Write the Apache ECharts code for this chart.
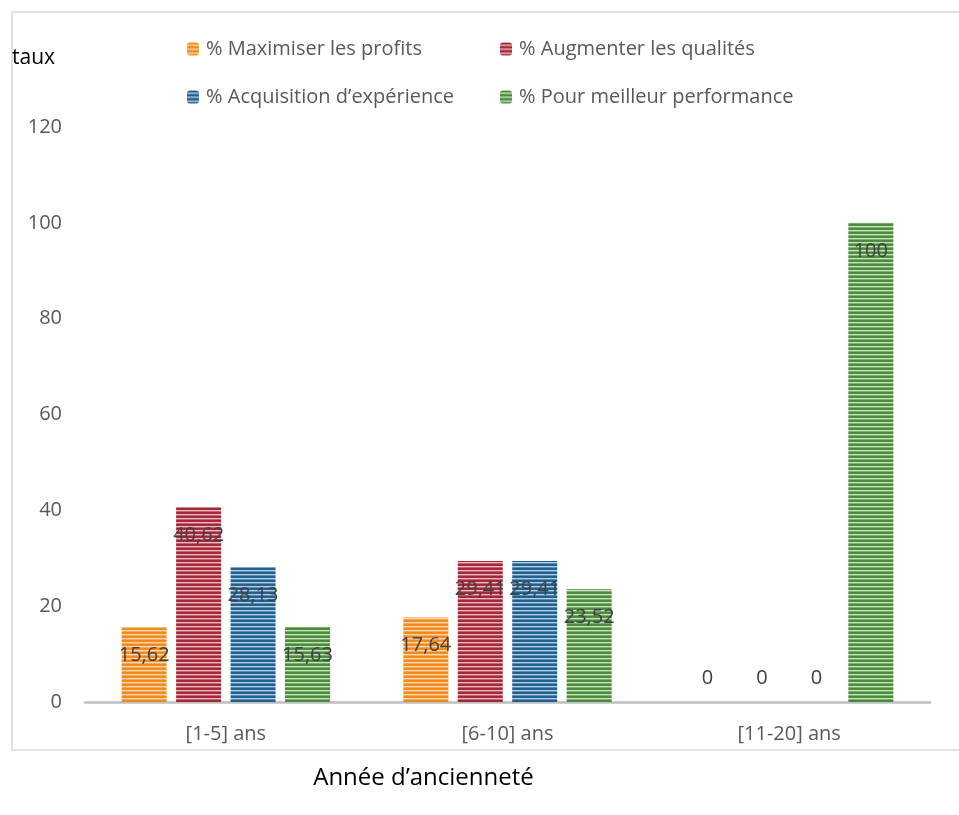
<!DOCTYPE html>
<html>
<head>
<meta charset="utf-8">
<script src="https://cdn.jsdelivr.net/npm/echarts@6/dist/echarts.min.js"></script>
<style>
  html, body { margin: 0; padding: 0; background: #ffffff; }
  #chart { width: 959px; height: 815px; }
</style>
</head>
<body>
<div id="chart"></div>
<script>
// Seniority groups on the category axis
const categories = ['[1-5] ans', '[6-10] ans', '[11-20] ans'];

// Series names (legend)
const seriesNames = [
  '% Maximiser les profits',
  '% Augmenter les qualités',
  '% Acquisition d’expérience',
  '% Pour meilleur performance'
];

// Rates per seniority group
const maximiserProfits = [15.62, 17.64, 0];
const augmenterQualites = [40.62, 29.41, 0];
const acquisitionExperience = [28.13, 29.41, 0];
const meilleurPerformance = [15.63, 23.52, 100];

// Value axis ticks
const yMin = 0;
const yMax = 120;
const yStep = 20;

const axisTitle = 'taux';
const categoryTitle = 'Année d’ancienneté';

// Base colours and their light stripe tints
const palette = [
  { base: '#f28a1c', light: '#fcd9b4', mid: '#f5a95a' },
  { base: '#a3283a', light: '#ecbcc3', mid: '#c4616f' },
  { base: '#22608e', light: '#b3cfe4', mid: '#5a8bb3' },
  { base: '#4a8b3c', light: '#c9e3c0', mid: '#7aad6c' }
];

// Horizontal-stripe fill pattern for the bars
function stripePattern(c) {
  const canvas = document.createElement('canvas');
  canvas.width = 4;
  canvas.height = 4;
  const ctx = canvas.getContext('2d');
  ctx.fillStyle = c.base;
  ctx.fillRect(0, 0, 4, 4);
  ctx.fillStyle = c.light;
  ctx.fillRect(0, 2, 4, 1);
  ctx.fillStyle = c.mid;
  ctx.fillRect(0, 3, 4, 1);
  return { image: canvas, repeat: 'repeat' };
}

const seriesValues = [maximiserProfits, augmenterQualites, acquisitionExperience, meilleurPerformance];

const labelFont = { fontFamily: 'Open Sans', fontSize: 20, color: '#404040' };

function buildData(values) {
  return values.map(function (v) {
    if (v === 0) {
      return { value: v, label: { position: 'top', distance: 14 } };
    }
    return { value: v };
  });
}

const series = seriesNames.map(function (name, i) {
  return {
    name: name,
    type: 'bar',
    barWidth: 45,
    barGap: '21%',
    data: buildData(seriesValues[i]),
    itemStyle: {
      color: stripePattern(palette[i]),
      borderWidth: 0
    },
    label: Object.assign({
      show: true,
      position: 'insideTop',
      distance: 18,
      formatter: function (p) { return String(p.value).replace('.', ','); }
    }, labelFont)
  };
});

// One legend block per entry, laid out as a 2 x 2 grid
const legendSpots = [
  { left: 187, top: 39 },
  { left: 500, top: 39 },
  { left: 187, top: 87 },
  { left: 500, top: 87 }
];
const legends = seriesNames.map(function (name, i) {
  return {
    data: [name],
    left: legendSpots[i].left,
    top: legendSpots[i].top,
    padding: 0,
    itemWidth: 12,
    itemHeight: 13,
    itemGap: 0,
    textStyle: { fontFamily: 'Open Sans', fontSize: 20, color: '#595959', padding: [0, 0, 0, 2] }
  };
});

const chart = echarts.init(document.getElementById('chart'), null, { renderer: 'canvas' });

chart.setOption({
  backgroundColor: '#ffffff',
  animation: false,
  legend: legends,
  grid: { left: 85, right: 29, top: 127, bottom: 113, containLabel: false },
  graphic: [
    {
      type: 'rect',
      shape: { x: 12, y: 12, width: 960, height: 738 },
      style: { fill: 'none', stroke: '#d9d9d9', lineWidth: 1.5 },
      silent: true,
      z: -1
    }
  ],
  xAxis: {
    type: 'category',
    data: categories,
    name: categoryTitle,
    nameLocation: 'middle',
    nameGap: 64,
    nameTextStyle: { fontFamily: 'Open Sans', fontSize: 24, color: '#000000', padding: [0, 168, 0, 0] },
    axisLine: { lineStyle: { color: '#bfbfbf', width: 2.5 } },
    axisTick: { show: false },
    axisLabel: { fontFamily: 'Open Sans', fontSize: 20, color: '#595959', margin: 22 },
    splitLine: { show: false }
  },
  yAxis: {
    type: 'value',
    min: yMin,
    max: yMax,
    interval: yStep,
    name: axisTitle,
    nameLocation: 'end',
    nameGap: 58,
    nameTextStyle: { fontFamily: 'Open Sans', fontSize: 21, color: '#000000', align: 'right', padding: [0, 30, 0, 0] },
    axisLine: { show: false },
    axisTick: { show: false },
    splitLine: { show: false },
    axisLabel: { fontFamily: 'Open Sans', fontSize: 20, color: '#595959', margin: 23 }
  },
  series: series
});
</script>
</body>
</html>
